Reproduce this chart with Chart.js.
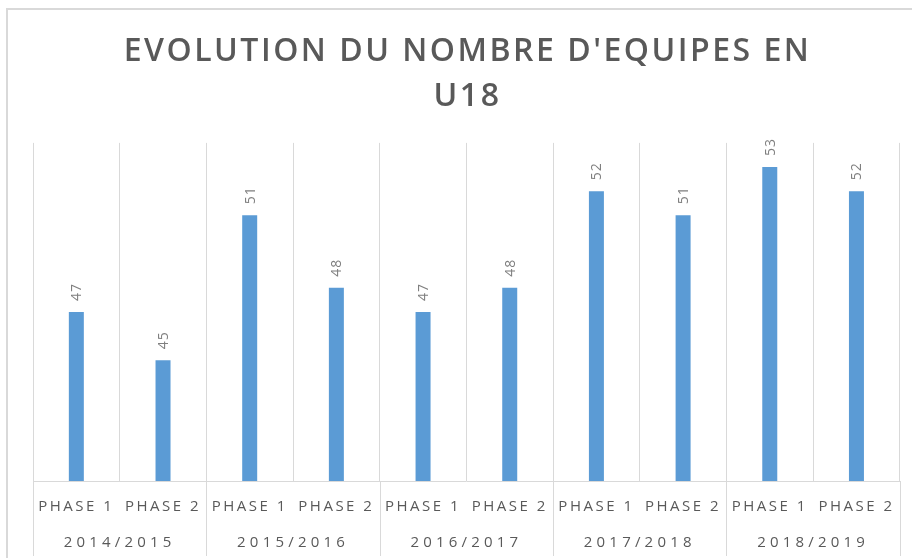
<!DOCTYPE html>
<html>
<head>
<meta charset="utf-8">
<script src="https://cdn.jsdelivr.net/npm/chart.js@4/dist/chart.umd.min.js"></script>
<style>
  html, body { margin: 0; padding: 0; background: #fff; }
  body { width: 912px; height: 558px; overflow: hidden; position: relative; }
  #frame {
    position: absolute; left: 6px; top: 8px; width: 904px; height: 550px;
    border-left: 2px solid #d9d9d9; border-top: 2px solid #d9d9d9;
  }
  #chart { display: block; }
</style>
</head>
<body>
<div id="frame"><canvas id="chart" width="904" height="548"></canvas></div>
<script>
const phases = ['PHASE 1', 'PHASE 2', 'PHASE 1', 'PHASE 2', 'PHASE 1', 'PHASE 2', 'PHASE 1', 'PHASE 2', 'PHASE 1', 'PHASE 2'];
const seasons = ['2014/2015', '2015/2016', '2016/2017', '2017/2018', '2018/2019'];
const teams = [47, 45, 51, 48, 47, 48, 52, 51, 53, 52];

const fontFamily = '"Open Sans", "Noto Sans", sans-serif';
const gridColor = '#d9d9d9';

// letter spacing like the spread-out Excel text (title + phase ticks)
const spacing = {
    id: 'spacing',
    beforeUpdate(chart) { chart.ctx.letterSpacing = '2.5px'; },
    beforeLayout(chart) { chart.ctx.letterSpacing = '2.5px'; },
    beforeDraw(chart) { chart.ctx.letterSpacing = '2.5px'; }
};

// vertical value labels above each bar
const barLabels = {
    id: 'barLabels',
    afterDatasetsDraw(chart) {
        const ctx = chart.ctx;
        const meta = chart.getDatasetMeta(0);
        ctx.save();
        ctx.letterSpacing = '1px';
        ctx.font = '14px ' + fontFamily;
        ctx.fillStyle = '#7f7f7f';
        ctx.textAlign = 'left';
        ctx.textBaseline = 'middle';
        meta.data.forEach((bar, i) => {
            ctx.save();
            ctx.translate(bar.x + 1, bar.y - 11);
            ctx.rotate(-Math.PI / 2);
            ctx.fillText(String(teams[i]), 0, 0);
            ctx.restore();
        });
        ctx.restore();
        // season labels (drawn after this, z: 1) are spaced wider
        ctx.letterSpacing = '4.2px';
    }
};

// season separators running down through both label rows
const seasonLines = {
    id: 'seasonLines',
    afterDraw(chart) {
        const ctx = chart.ctx;
        const x2 = chart.scales.x2;
        const step = x2.width / seasons.length;
        ctx.save();
        ctx.strokeStyle = gridColor;
        ctx.lineWidth = 1;
        ctx.beginPath();
        for (let i = 0; i <= seasons.length; i++) {
            const x = Math.round(x2.left + i * step) + 0.5;
            ctx.moveTo(x, chart.chartArea.bottom);
            ctx.lineTo(x, x2.bottom + 3);
        }
        ctx.stroke();
        ctx.restore();
    }
};

new Chart(document.getElementById('chart'), {
    type: 'bar',
    data: {
        labels: phases,
        datasets: [{
            data: teams,
            backgroundColor: '#5b9bd5',
            borderWidth: 0,
            barPercentage: 0.173,
            categoryPercentage: 1
        }]
    },
    options: {
        responsive: false,
        animation: false,
        layout: { padding: { left: 25, right: 10, top: 0, bottom: 5 } },
        plugins: {
            legend: { display: false },
            tooltip: { enabled: false },
            title: {
                display: true,
                text: ["EVOLUTION DU NOMBRE D'EQUIPES EN", 'U18'],
                color: '#595959',
                font: { family: fontFamily, size: 32, weight: '600', lineHeight: 1.42 },
                padding: { top: 19, bottom: 23 }
            }
        },
        scales: {
            x: {
                offset: true,
                grid: { display: true, drawOnChartArea: true, drawTicks: false, color: gridColor, offset: true },
                border: { display: true, color: gridColor },
                ticks: {
                    autoSkip: false, maxRotation: 0, padding: 17,
                    color: '#595959',
                    font: { family: fontFamily, size: 15, lineHeight: 1.2 }
                }
            },
            x2: {
                axis: 'x',
                type: 'category',
                position: 'bottom',
                labels: seasons,
                offset: true,
                weight: 1,
                grid: { display: false, drawTicks: false },
                border: { display: false },
                ticks: {
                    autoSkip: false, maxRotation: 0, padding: 1, z: 1,
                    color: '#595959',
                    font: { family: fontFamily, size: 15, lineHeight: 1.2 }
                }
            },
            y: {
                display: false,
                min: 40,
                max: 54
            }
        }
    },
    plugins: [spacing, barLabels, seasonLines]
});
</script>
</body>
</html>
